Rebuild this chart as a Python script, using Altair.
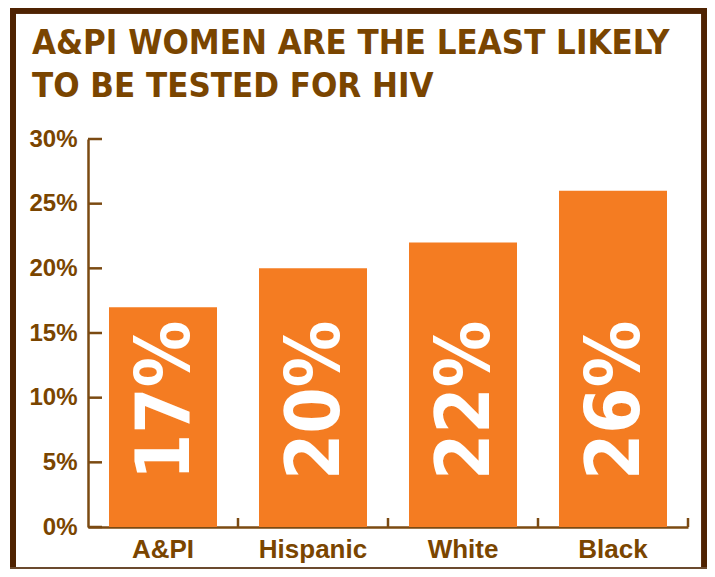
import altair as alt
import pandas as pd

groups = ["A&PI", "Hispanic", "White", "Black"]
rates = [0.17, 0.20, 0.22, 0.26]
bar_labels = ["17%", "20%", "22%", "26%"]
y_ticks = [0.0, 0.05, 0.10, 0.15, 0.20, 0.25, 0.30]
title_lines = ["A&PI WOMEN ARE THE LEAST LIKELY", "TO BE TESTED FOR HIV"]

ORANGE = "#F47C22"
BROWN = "#7A4500"
AXIS = "#7B4A12"
FRAME = "#4F2302"
COND = "DejaVu Sans Condensed, sans-serif"
BOLD = "Liberation Sans, Arial, sans-serif"

W, H = 600, 388
PAD_INNER, PAD_OUTER = 0.28, 0.14

df = pd.DataFrame({"group": groups, "rate": rates, "label": bar_labels})
ticks_df = pd.DataFrame({"v": y_ticks})

xscale = alt.Scale(domain=groups, paddingInner=PAD_INNER, paddingOuter=PAD_OUTER)
cellscale = alt.Scale(domain=groups, paddingInner=0, paddingOuter=0)
yscale = alt.Scale(domain=[0, 0.30])
y_axis = alt.Axis(title=None, values=y_ticks, format=".0%", ticks=False, grid=False,
                  labelPadding=11, labelFont=BOLD, labelFontSize=24,
                  labelFontWeight="bold", labelColor=BROWN,
                  domainColor=AXIS, domainWidth=2.5)

base = alt.Chart(df)

bars = base.mark_bar(color=ORANGE).encode(
    x=alt.X("group:N", sort=groups, scale=xscale,
            axis=alt.Axis(title=None, labelAngle=0, ticks=False, labelPadding=9,
                          labelFont=BOLD, labelFontSize=26, labelFontWeight="bold",
                          labelColor=BROWN, domainColor=AXIS, domainWidth=2.5)),
    y=alt.Y("rate:Q", scale=yscale, axis=y_axis),
)

texts = base.mark_text(angle=270, align="left", baseline="middle", dx=47, dy=4,
                       font=COND, fontSize=74, fontWeight="bold", color="white").encode(
    x=alt.X("group:N", sort=groups, scale=xscale, axis=None),
    y=alt.datum(0),
    text="label:N",
)

ytick_rules = alt.Chart(ticks_df).mark_rule(color=AXIS, strokeWidth=2.5).encode(
    y=alt.Y("v:Q", scale=yscale, axis=y_axis),
    x=alt.value(0), x2=alt.value(14),
)

# inward-pointing x ticks at the boundaries between category cells
xtick_rules = base.mark_rule(color=AXIS, strokeWidth=2.5).encode(
    x=alt.X("group:N", sort=groups, scale=cellscale, bandPosition=1, axis=None),
    y=alt.value(H - 9), y2=alt.value(H),
)

# decorative frame around the whole graphic (plot origin is at 80,131)
frame_top = base.mark_rule(color=FRAME, strokeWidth=5.5).encode(
    x=alt.value(-77.75), x2=alt.value(619), y=alt.value(-128.25))
frame_left = base.mark_rule(color=FRAME, strokeWidth=5.5).encode(
    x=alt.value(-75), y=alt.value(-131), y2=alt.value(430))
frame_right = base.mark_rule(color=FRAME, strokeWidth=5.5).encode(
    x=alt.value(616.25), y=alt.value(-131), y2=alt.value(430))
frame_bottom = base.mark_rule(color="#6B4A2E", strokeWidth=2).encode(
    x=alt.value(-77.75), x2=alt.value(619), y=alt.value(429))

chart = alt.layer(
    bars, texts, ytick_rules, xtick_rules,
    frame_top, frame_left, frame_right, frame_bottom,
).resolve_scale(x="independent").properties(
    width=W, height=H,
    autosize=alt.AutoSizeParams(type="none"),
    padding={"left": 80, "top": 131, "right": 19, "bottom": 42},
    background="white",
    title=alt.TitleParams(
        text=title_lines, anchor="start", frame="group", dx=-56, dy=103,
        baseline="top", font=COND, fontSize=34.5, fontWeight="bold", color=BROWN,
        lineHeight=43,
    ),
).configure_view(stroke=None)

chart.save("out.html", embed_options={"renderer": "svg", "actions": False})
